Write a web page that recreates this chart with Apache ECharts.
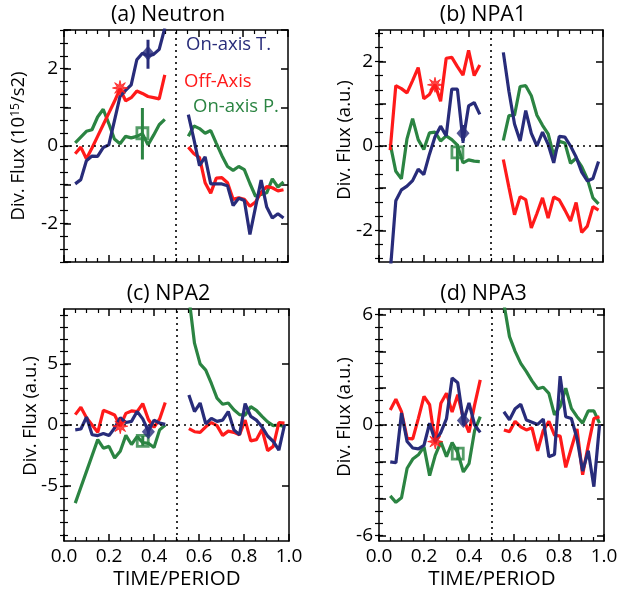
<!DOCTYPE html>
<html>
<head>
<meta charset="utf-8">
<script src="https://cdn.jsdelivr.net/npm/echarts@6/dist/echarts.min.js"></script>
<style>
  html, body { margin: 0; padding: 0; background: #fff; }
  #chart { width: 618px; height: 599px; }
</style>
</head>
<body>
<div id="chart"></div>
<script>
// time/period sample points (two half-period segments)
const xLeft = [0.05, 0.075, 0.1, 0.125, 0.15, 0.175, 0.2, 0.225, 0.25, 0.275, 0.3, 0.325, 0.35, 0.375, 0.4, 0.425, 0.45];
const xRight = [0.555, 0.58, 0.605, 0.63, 0.655, 0.68, 0.705, 0.73, 0.755, 0.78, 0.805, 0.83, 0.855, 0.88, 0.905, 0.93, 0.955, 0.98];

// (a) Neutron
const aBlueL = [-0.98, -0.87, -0.38, -0.26, -0.27, -0.04, 0.03, 0.65, 1.28, 1.44, 1.58, 2.23, 2.4, 2.33, 2.37, 2.5, 3.05];
const aBlueR = [0.81, 0.17, -0.51, -0.28, -0.98, -0.98, -0.98, -1.03, -1.54, -1.35, -1.41, -2.29, -1.58, -0.88, -1.58, -1.86, -1.75, -1.86];
const aRedL = [-0.2, -0.03, -0.33, -0.05, 0.25, 0.55, 0.85, 1.15, 1.48, 1.17, 1.25, 1.42, 1.36, 1.28, 1.25, 1.22, 1.84];
const aRedR = [-0.03, -0.2, -0.3, -0.95, -1.22, -0.83, -0.82, -0.95, -1.38, -1.34, -1.38, -1.56, -1.45, -1.2, -1.05, -1.08, -1.16, -1.13];
const aGreenL = [0.08, 0.23, 0.38, 0.42, 0.75, 0.95, 0.58, 0.18, 0.06, 0.25, 0.21, 0.25, 0.32, 0.03, 0.28, 0.55, 0.69];
const aGreenR = [0.25, 0.52, 0.45, 0.33, 0.4, 0.07, -0.25, -0.53, -0.63, -0.53, -0.61, -0.97, -1.3, -1.25, -1.21, -0.85, -1.06, -0.93];

// (b) NPA1
const bBlueL = [-3.0, -1.3, -1.04, -0.95, -0.82, -0.55, -0.68, -0.2, 0.22, 0.47, 0.24, 1.35, 1.35, 0.12, 0.95, 1.03, 0.75];
const bBlueR = [2.22, 1.3, 0.52, 0.12, 0.84, 0.3, 0.0, 0.33, 0.04, -0.4, 0.23, 0.21, 0.0, -0.26, -0.62, -0.83, -0.77, -0.37];
const bRedL = [-0.1, 1.43, 1.36, 1.26, 1.55, 1.86, 1.12, 1.22, 1.46, 1.06, 2.08, 2.1, 1.88, 1.68, 2.27, 1.67, 1.92];
const bRedR = [-0.32, -0.98, -1.63, -1.2, -1.27, -1.94, -1.6, -1.23, -1.71, -1.21, -1.28, -1.52, -1.78, -1.34, -2.05, -1.9, -1.44, -1.52];
const bGreenL = [0.05, -0.6, -0.78, 0.17, 0.65, 0.15, -0.08, 0.31, 0.33, 0.12, 0.24, 0.15, 0.02, -0.4, -0.33, -0.36, -0.37];
const bGreenR = [0.13, 0.72, 0.73, 1.41, 1.43, 1.19, 0.73, 0.49, 0.29, -0.23, 0.11, 0.07, -0.41, -0.29, -0.49, -0.78, -1.23, -1.37];

// (c) NPA2
const cBlueL = [-0.4, -0.33, 0.65, -0.8, -0.87, -0.7, -0.87, -0.25, 0.6, 0.2, 0.3, 1.1, 0.5, -0.5, 0.4, 0.15, 0.05];
const cBlueR = [2.45, 1.1, 1.8, 0.1, 0.55, 0.3, 0.4, 1.1, -0.4, -0.8, 1.75, 0.7, 0.4, -0.15, -0.9, -1.35, -2.05, 0.0];
const cRedL = [0.85, 1.45, 0.6, 0.0, -0.6, 1.2, 1.03, 0.82, -0.1, 0.95, 1.15, 1.1, 1.75, 0.45, -0.2, 0.5, 1.85];
const cRedR = [-0.3, -0.55, -0.6, -0.15, 0.2, -0.05, -0.85, -0.5, -0.6, -0.8, 0.4, -1.3, -1.2, -0.35, -2.1, -1.75, 0.2, 0.15];
const cGreenL = [-6.4, -5.1, -3.8, -2.5, -1.2, -1.9, -1.75, -2.7, -2.15, -0.85, -1.6, -0.95, -1.45, -1.5, -1.85, -0.4, 0.0];
const cGreenR = [10.5, 6.7, 5.0, 4.5, 3.4, 2.2, 1.7, 1.8, 1.25, 0.85, 0.8, 1.5, 1.2, 0.7, 0.25, -0.05, 0.0, -0.15];

// (d) NPA3
const dBlueL = [-2.0, -2.05, 0.65, -0.9, -1.25, -1.3, -1.1, 0.1, -0.9, -0.4, 0.35, 2.55, 2.3, 0.2, 1.2, 0.0, -0.4];
const dBlueR = [0.72, 0.28, 0.88, 1.12, 0.27, 0.15, 0.03, 0.32, -1.72, -1.6, 2.65, 0.45, 0.35, -0.73, -2.5, -1.4, -3.35, 0.0];
const dRedL = [0.82, 1.4, 0.73, -0.73, -0.75, 0.36, 1.55, 1.1, -1.0, 1.18, 1.72, 0.7, 1.65, 0.35, -0.4, 1.09, 2.45];
const dRedR = [-0.27, -0.36, 0.2, -0.1, -0.27, -0.15, -1.4, -0.3, 0.2, -0.55, -0.6, -2.3, -1.25, -0.22, -2.7, -1.1, 0.35, 0.45];
const dGreenL = [-3.85, -4.2, -3.95, -2.35, -1.85, -1.62, -1.18, -2.75, -1.65, -0.92, -1.72, -0.95, -1.5, -2.55, -2.1, -0.3, 0.45];
const dGreenR = [6.6, 4.8, 4.0, 3.35, 2.9, 2.4, 1.97, 2.05, 1.72, 0.55, 1.0, 2.0, 0.9, 0.45, 0.1, 0.77, 0.77, 0.1];

// markers: [x, y], error bars: [x, low, high]
const starPts = [[0.25, 1.5], [0.25, 1.45], [0.25, -0.1], [0.25, -0.9]];
const diamondPts = [[0.375, 2.4], [0.375, 0.3], [0.375, -0.55], [0.375, 0.25]];
const squarePts = [[0.35, 0.33], [0.35, -0.15], [0.35, -1.3], [0.35, -1.55]];
const blueBars = [[0.375, 2.0, 2.75], [0.375, 0.07, 0.5], [0.375, -0.9, -0.2], [0.375, 0.0, 0.5]];
const greenBars = [[0.35, -0.35, 0.98], [0.35, -0.6, 0.05], [0.35, -1.7, -0.9], [0.35, -1.9, -1.2]];

const titles = ['(a) Neutron', '(b) NPA1', '(c) NPA2', '(d) NPA3'];
const yRanges = [[-3, 3], [-2.75, 2.75], [-9.5, 9.5], [-6.3, 6.3]];
const yMajorStep = [1, 1, 5, 2];
const yMinorStep = [1 / 3, 1 / 3, 1, 2 / 3];
const yLabelVals = [[-2, 0, 2], [-2, 0, 2], [-5, 0, 5], [-6, 0, 6]];
const xLabelVals = [0, 0.2, 0.4, 0.6, 0.8, 1.0];

const NAVY = '#282c7a';
const RED = '#ff1a1a';
const GREEN = '#2b8442';
const FONT = 'Open Sans';

const grids = [
  { left: 64, top: 30, width: 224, height: 232 },
  { left: 379, top: 30, width: 224, height: 232 },
  { left: 64, top: 309, width: 225, height: 232 },
  { left: 379, top: 309, width: 225, height: 232 }
];

const panelData = [
  [aBlueL, aBlueR, aRedL, aRedR, aGreenL, aGreenR],
  [bBlueL, bBlueR, bRedL, bRedR, bGreenL, bGreenR],
  [cBlueL, cBlueR, cRedL, cRedR, cGreenL, cGreenR],
  [dBlueL, dBlueR, dRedL, dRedR, dGreenL, dGreenR]
];

const stepsBetween = (min, max, step) => {
  const out = [];
  const k0 = Math.ceil(min / step - 1e-6);
  const k1 = Math.floor(max / step + 1e-6);
  for (let k = k0; k <= k1; k++) out.push(+(k * step).toFixed(6));
  return out;
};

const zip = (xs, ys) => xs.map((x, i) => [x, ys[i]]);

// 8-point star
const starPath = 'path://M10,0L3.7,1.53L7.07,7.07L1.53,3.7L0,10L-1.53,3.7L-7.07,7.07L-3.7,1.53L-10,0L-3.7,-1.53L-7.07,-7.07L-1.53,-3.7L0,-10L1.53,-3.7L7.07,-7.07L3.7,-1.53Z';

const xAxes = [];
const yAxes = [];
const series = [];
const graphics = [];

grids.forEach((g, p) => {
  const [ymin, ymax] = yRanges[p];
  const bottom = p >= 2;
  // bottom and top x axes
  ['bottom', 'top'].forEach((pos, k) => {
    xAxes.push({
      type: 'value', gridIndex: p, position: pos, min: 0, max: 1, interval: 0.2,
      axisLine: { show: true, onZero: false, lineStyle: { color: '#000', width: 1.5 } },
      axisTick: { show: true, inside: true, length: 7, lineStyle: { color: '#000', width: 1.5 } },
      minorTick: { show: true, splitNumber: 4, length: 4, lineStyle: { color: '#000', width: 1.2 } },
      splitLine: { show: false },
      axisLabel: {
        show: bottom && k === 0, color: '#000', fontFamily: FONT, fontSize: 19, margin: 6,
        formatter: v => xLabelVals.some(t => Math.abs(t - v) < 1e-6) ? v.toFixed(1) : ''
      }
    });
  });
  const majors = stepsBetween(ymin, ymax, yMajorStep[p]);
  const minors = stepsBetween(ymin, ymax, yMinorStep[p]);
  ['left', 'right'].forEach((pos, k) => {
    yAxes.push({
      type: 'value', gridIndex: p, position: pos, min: ymin, max: ymax,
      axisLine: { show: true, onZero: false, lineStyle: { color: '#000', width: 1.5 } },
      axisTick: { show: true, inside: true, length: 7, customValues: majors, lineStyle: { color: '#000', width: 1.5 } },
      splitLine: { show: false },
      axisLabel: {
        show: k === 0, customValues: yLabelVals[p], color: '#000', fontFamily: FONT, fontSize: 19, margin: 6,
        formatter: v => String(v)
      }
    });
  });
  ['left', 'right'].forEach(pos => {
    yAxes.push({
      type: 'value', gridIndex: p, position: pos, min: ymin, max: ymax,
      axisLine: { show: false },
      axisTick: { show: true, inside: true, length: 4, customValues: minors, lineStyle: { color: '#000', width: 1.2 } },
      splitLine: { show: false },
      axisLabel: { show: false }
    });
  });

  const xi = 2 * p;
  const yi = 4 * p;
  const [bl, br, rl, rr, gl, gr] = panelData[p];
  const line = (xs, ys, color, z) => ({
    type: 'line', xAxisIndex: xi, yAxisIndex: yi, data: zip(xs, ys),
    showSymbol: false, symbol: 'none', clip: true, z,
    lineStyle: { color, width: 3.2 }, animation: false
  });
  // reference lines
  series.push({
    type: 'line', xAxisIndex: xi, yAxisIndex: yi, data: [], z: 1,
    markLine: {
      silent: true, symbol: 'none', animation: false, label: { show: false },
      lineStyle: { color: '#000', type: [2, 4], width: 1.6 },
      data: [{ xAxis: 0.5 }, { yAxis: 0 }]
    }
  });
  series.push(line(xLeft, gl, GREEN, 2), line(xRight, gr, GREEN, 2));
  series.push(line(xLeft, rl, RED, 3), line(xRight, rr, RED, 3));
  series.push(line(xLeft, bl, NAVY, 4), line(xRight, br, NAVY, 4));

  // error bars
  const gb = greenBars[p];
  const bb = blueBars[p];
  series.push({
    type: 'line', xAxisIndex: xi, yAxisIndex: yi, data: [[gb[0], gb[1]], [gb[0], gb[2]]],
    showSymbol: false, symbol: 'none', z: 5, lineStyle: { color: GREEN, width: 3 }, animation: false
  });
  series.push({
    type: 'line', xAxisIndex: xi, yAxisIndex: yi, data: [[bb[0], bb[1]], [bb[0], bb[2]]],
    showSymbol: false, symbol: 'none', z: 5, lineStyle: { color: NAVY, width: 3 }, animation: false
  });
  // markers
  series.push({
    type: 'scatter', xAxisIndex: xi, yAxisIndex: yi, data: [squarePts[p]], z: 6,
    symbol: 'rect', symbolSize: 11,
    itemStyle: { color: 'rgba(0,0,0,0)', borderColor: GREEN, borderWidth: 2.8 }, animation: false
  });
  series.push({
    type: 'scatter', xAxisIndex: xi, yAxisIndex: yi, data: [diamondPts[p]], z: 6,
    symbol: 'diamond', symbolSize: [13, 15], itemStyle: { color: NAVY }, animation: false
  });
  series.push({
    type: 'scatter', xAxisIndex: xi, yAxisIndex: yi, data: [starPts[p]], z: 6,
    symbol: starPath, symbolSize: 15,
    itemStyle: { color: RED, borderColor: RED, borderWidth: 1 }, animation: false
  });

  // panel title
  graphics.push({
    type: 'text', x: g.left + g.width / 2 - 8, y: g.top - 15,
    style: { text: titles[p], font: `21.5px "${FONT}"`, fill: '#000', textAlign: 'center', textVerticalAlign: 'middle' }
  });
});

// y-axis titles
const yTitlePos = [[19, 146], [345, 140], [31, 416], [345, 417]];
yTitlePos.forEach((pos, p) => {
  graphics.push({
    type: 'text', x: pos[0], y: pos[1], rotation: Math.PI / 2,
    style: {
      text: p === 0 ? 'Div. Flux (10{sup|15}/s2)' : 'Div. Flux (a.u.)',
      font: `18.5px "${FONT}"`, fill: '#000', textAlign: 'center', textVerticalAlign: 'middle',
      rich: { sup: { fontSize: 12, fontFamily: FONT, verticalAlign: 'top', fill: '#000' } }
    }
  });
});

// x-axis titles
[177, 492].forEach(cx => {
  graphics.push({
    type: 'text', x: cx, y: 579,
    style: { text: 'TIME/PERIOD', font: `20.5px "${FONT}"`, fill: '#000', textAlign: 'center', textVerticalAlign: 'middle' }
  });
});

// legend text in panel (a)
const legendTexts = [['On-axis T.', NAVY, 186, 45], ['Off-Axis', RED, 184, 82], ['On-axis P.', GREEN, 193, 107]];
legendTexts.forEach(([t, c, x, y]) => {
  graphics.push({
    type: 'text', x, y,
    style: { text: t, font: `18.5px "${FONT}"`, fill: c, textAlign: 'left', textVerticalAlign: 'middle' }
  });
});

const chart = echarts.init(document.getElementById('chart'), null, { renderer: 'canvas' });
chart.setOption({
  backgroundColor: '#fff',
  animation: false,
  grid: grids.map(g => Object.assign({ outerBoundsMode: 'none', containLabel: false }, g)),
  xAxis: xAxes,
  yAxis: yAxes,
  series,
  graphic: graphics
});
</script>
</body>
</html>
